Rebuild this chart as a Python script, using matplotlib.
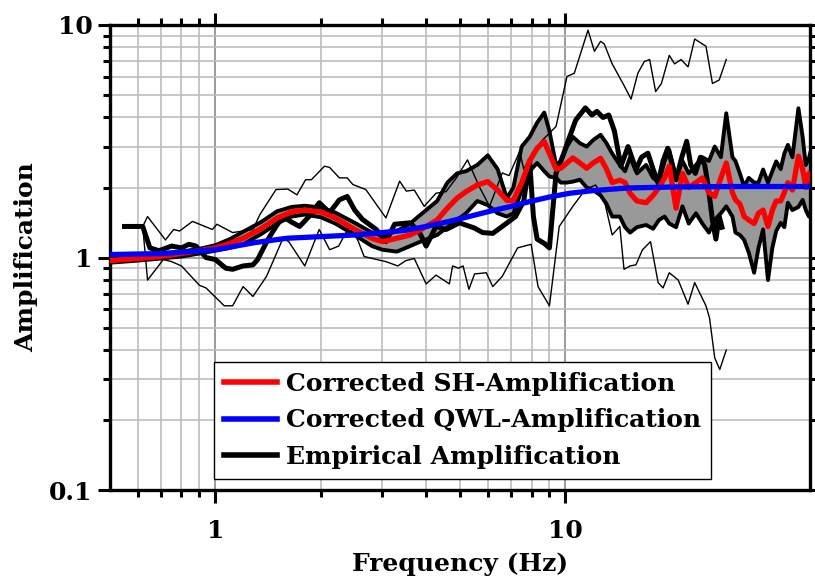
import numpy as np
import matplotlib
matplotlib.use("Agg")
import matplotlib.pyplot as plt
from matplotlib.ticker import FixedLocator, NullFormatter

# SH amplification: frequency, lower bound, mean, upper bound
sh_freq = [0.5, 0.6, 0.7, 0.8, 0.9, 1.0, 1.1, 1.2, 1.35, 1.5, 1.65, 1.8, 2.0, 2.2,
           2.5, 2.8, 3.0, 3.3, 3.6, 3.8, 4.3, 4.6, 4.9, 5.2, 5.6, 6.0, 6.4, 6.8,
           7.1, 7.5, 7.9, 8.3, 8.7, 9.0, 9.4, 9.7, 10.1, 10.5, 11.0, 11.5, 12.0,
           12.6, 13.1, 13.6, 14.3, 14.8, 15.3, 16.0, 17.0, 17.8, 18.5, 19.2, 19.8,
           20.7, 21.6, 22.5, 23.6, 24.6, 25.7, 26.7, 27.8, 28.8, 30.0, 30.6, 31.5,
           32.4, 33.4, 34.6, 35.6, 36.7, 37.9, 39.0, 40.0, 41.2, 42.2, 43.2, 44.5,
           46.3, 47.6, 48.6, 49.6, 50.0]
sh_lo = [0.95, 0.97, 0.99, 1.01, 1.04, 1.07, 1.10, 1.14, 1.26, 1.40, 1.50, 1.53, 1.49, 1.40,
         1.25, 1.12, 1.08, 1.06, 1.12, 1.16, 1.25, 1.35, 1.45, 1.55, 1.75, 1.68, 1.55, 1.50,
         1.55, 1.95, 2.35, 2.55, 2.35, 2.23, 2.20, 2.10, 2.10, 2.12, 2.16, 2.00, 1.95,
         1.85, 1.70, 1.50, 1.50, 1.35, 1.28, 1.35, 1.38, 1.33, 1.45, 1.50, 1.40,
         1.35, 1.66, 1.40, 1.55, 1.40, 1.28, 1.45, 1.55, 1.66, 1.50, 1.28, 1.25,
         1.19, 1.05, 0.86, 1.10, 1.32, 0.80, 1.10, 1.30, 1.41, 1.35, 1.72, 1.60,
         1.65, 1.77, 1.60, 1.50, 1.55]
sh_mean = [0.97, 0.99, 1.01, 1.04, 1.07, 1.10, 1.15, 1.21, 1.33, 1.48, 1.57, 1.60, 1.57, 1.48,
           1.32, 1.21, 1.17, 1.21, 1.25, 1.30, 1.45, 1.63, 1.80, 1.92, 2.05, 2.12, 1.95, 1.76,
           1.76, 2.10, 2.60, 2.95, 3.15, 2.80, 2.40, 2.42, 2.55, 2.68, 2.55, 2.42, 2.55,
           2.67, 2.40, 2.10, 2.15, 2.10, 1.89, 1.75, 1.72, 1.85, 2.00, 2.20, 2.47,
           1.63, 2.30, 2.00, 2.10, 2.20, 1.90, 1.83, 2.20, 2.55, 1.90, 1.77, 1.70,
           1.50, 1.45, 1.40, 1.55, 1.60, 1.36, 1.60, 1.75, 1.75, 1.90, 2.10, 1.95,
           2.73, 2.40, 2.00, 2.30, 2.20]
sh_hi = [0.99, 1.01, 1.03, 1.06, 1.09, 1.13, 1.20, 1.29, 1.42, 1.58, 1.65, 1.67, 1.64, 1.56,
         1.41, 1.28, 1.24, 1.30, 1.40, 1.50, 1.75, 2.10, 2.30, 2.35, 2.50, 2.75, 2.40, 1.80,
         2.00, 3.00, 3.30, 3.80, 4.20, 3.50, 2.50, 2.60, 3.00, 3.30, 3.10, 3.00, 3.20,
         3.37, 3.10, 2.80, 2.50, 2.35, 2.70, 2.30, 2.50, 2.20, 2.10, 2.60, 2.90,
         2.20, 2.60, 2.30, 2.50, 2.70, 2.60, 3.00, 2.70, 4.17, 2.70, 2.60, 2.30,
         2.02, 2.20, 2.10, 2.10, 2.39, 2.10, 2.35, 2.59, 2.40, 2.80, 3.05, 2.70,
         4.38, 3.30, 2.50, 2.67, 2.80]

# Quarter-wavelength amplification
qwl_freq = [0.5, 0.7, 1.0, 1.3, 1.6, 2.0, 2.5, 3.0, 3.5, 4.0, 4.66, 5.3, 6.07, 7.0,
            7.9, 9.0, 10.3, 12.0, 15.0, 20.0, 30.0, 50.0]
qwl_amp = [1.03, 1.04, 1.08, 1.16, 1.21, 1.23, 1.25, 1.28, 1.31, 1.36, 1.43, 1.50, 1.58, 1.66,
           1.74, 1.82, 1.89, 1.94, 1.99, 2.01, 2.02, 2.02]

# Empirical amplification (mean)
emp_freq = [0.55, 0.62, 0.65, 0.69, 0.75, 0.80, 0.84, 0.88, 0.94, 1.00, 1.07, 1.12, 1.20,
            1.28, 1.32, 1.41, 1.49, 1.56, 1.65, 1.74, 1.85, 1.98, 2.12, 2.26, 2.38, 2.50,
            2.63, 2.88, 3.07, 3.25, 3.60, 3.83, 4.00, 4.27, 4.56, 4.98, 5.49, 5.80, 6.20,
            6.60, 7.20, 7.60, 7.90, 8.10, 8.30, 8.70, 9.00, 9.20, 9.40, 9.80, 10.2, 10.7,
            11.4, 11.9, 12.3, 12.8, 13.3, 13.8, 14.4, 15.1, 15.9, 16.5, 17.2, 17.8, 18.4,
            19.0, 19.6, 20.2, 20.7, 21.5, 22.2, 22.8, 23.5, 24.3, 25.0, 25.6, 26.3, 26.9,
            27.5, 28.0]
emp_amp = [1.36, 1.36, 1.10, 1.07, 1.12, 1.10, 1.14, 1.12, 1.00, 0.98, 0.90, 0.89, 0.92,
           0.93, 0.98, 1.19, 1.36, 1.50, 1.42, 1.36, 1.50, 1.72, 1.56, 1.77, 1.83, 1.60,
           1.46, 1.32, 1.17, 1.39, 1.41, 1.28, 1.12, 1.36, 1.32, 1.41, 1.34, 1.28, 1.27,
           1.36, 1.50, 1.75, 2.60, 1.50, 1.20, 1.15, 1.10, 1.60, 2.30, 2.70, 3.20, 3.90,
           4.40, 4.10, 4.25, 4.00, 4.10, 3.50, 2.47, 3.00, 2.39, 2.70, 2.81, 2.40, 2.09,
           2.60, 2.95, 2.50, 2.16, 2.70, 3.16, 2.50, 2.30, 2.70, 2.50, 2.00, 1.45, 1.20,
           1.50, 1.35]

# Empirical upper / lower bounds
hi_freq = [0.62, 0.64, 0.72, 0.76, 0.79, 0.86, 0.98, 1.01, 1.12, 1.28, 1.34, 1.49, 1.61,
           1.71, 1.81, 1.88, 2.05, 2.12, 2.26, 2.38, 2.47, 2.69, 3.07, 3.36, 3.51, 3.70,
           3.95, 4.27, 4.56, 4.88, 5.25, 5.67, 6.07, 6.60, 6.90, 7.40, 7.60, 8.05, 8.60,
           9.40, 10.1, 10.6, 11.6, 12.1, 12.6, 12.9, 13.6, 14.6, 15.4, 16.1, 16.8, 17.4,
           18.1, 18.8, 19.8, 20.5, 21.4, 22.4, 23.4, 25.2, 26.3, 27.5, 28.8]
hi_amp = [1.36, 1.50, 1.19, 1.32, 1.30, 1.43, 1.32, 1.39, 1.28, 1.32, 1.53, 1.96, 1.97,
          1.86, 2.16, 2.16, 2.47, 2.44, 2.20, 2.20, 2.06, 1.96, 1.48, 2.13, 1.93, 1.95,
          1.66, 1.89, 1.92, 2.20, 2.63, 2.02, 1.66, 2.31, 2.25, 2.86, 2.40, 2.81, 3.20,
          3.66, 6.00, 6.20, 9.50, 7.70, 8.50, 8.30, 6.80, 5.60, 4.80, 6.20, 6.96, 7.10,
          5.17, 5.60, 7.40, 6.80, 7.10, 6.60, 8.70, 8.10, 5.60, 5.80, 7.10]
lo_freq = [0.62, 0.64, 0.71, 0.75, 0.80, 0.90, 0.94, 1.06, 1.12, 1.20, 1.28, 1.40, 1.56,
           1.62, 1.80, 1.98, 2.12, 2.25, 2.41, 2.55, 2.66, 3.07, 3.32, 3.50, 3.70, 4.00,
           4.27, 4.66, 4.76, 4.95, 5.10, 5.30, 5.50, 5.94, 6.20, 6.60, 7.30, 7.98, 8.35,
           9.00, 9.60, 10.5, 11.4, 12.2, 12.9, 13.6, 14.3, 14.7, 15.3, 15.9, 16.6, 17.5,
           18.4, 19.0, 19.8, 21.0, 22.4, 23.4, 25.2, 25.8, 26.7, 27.6, 28.8]
lo_amp = [1.36, 0.80, 0.98, 0.96, 0.92, 0.76, 0.74, 0.62, 0.62, 0.75, 0.68, 0.83, 1.21,
          1.17, 0.92, 1.32, 1.08, 1.12, 1.36, 1.19, 1.01, 0.96, 0.92, 0.97, 0.99, 0.77,
          0.84, 0.77, 0.92, 0.90, 0.92, 0.73, 0.85, 0.86, 0.75, 0.83, 1.10, 1.14, 0.75,
          0.62, 1.36, 1.66, 1.96, 2.05, 1.77, 1.25, 1.36, 0.89, 0.92, 0.93, 1.08, 1.17,
          0.78, 0.74, 0.86, 0.80, 0.63, 0.78, 0.62, 0.55, 0.37, 0.33, 0.40]

x_major = [1, 10]
x_minor = [0.6, 0.7, 0.8, 0.9, 2, 3, 4, 5, 6, 7, 8, 9]
y_major = [0.1, 1, 10]

plt.rcParams["font.family"] = "DejaVu Serif"
plt.rcParams["font.weight"] = "bold"

fig = plt.figure(figsize=(8.15, 5.8), dpi=100)
ax = fig.add_axes([0.135, 0.155, 0.859, 0.802])

ax.fill_between(sh_freq, sh_lo, sh_hi, color="#999999", lw=0, zorder=2)
ax.plot(sh_freq, sh_lo, color="black", lw=2.8, zorder=3)
ax.plot(sh_freq, sh_hi, color="black", lw=2.8, zorder=3)
ax.plot(hi_freq, hi_amp, color="black", lw=1.0, zorder=3)
ax.plot(lo_freq, lo_amp, color="black", lw=1.0, zorder=3)
ax.plot(emp_freq, emp_amp, color="black", lw=3.6, zorder=4,
        label="Empirical Amplification")
ax.plot(sh_freq, sh_mean, color="red", lw=3.8, zorder=5,
        label="Corrected SH-Amplification")
ax.plot(qwl_freq, qwl_amp, color="blue", lw=3.8, zorder=6,
        label="Corrected QWL-Amplification")

ax.set_xscale("log")
ax.set_yscale("log")
ax.set_xlim(0.5, 50)
ax.set_ylim(0.1, 10)

ax.xaxis.set_major_locator(FixedLocator(x_major))
ax.xaxis.set_minor_locator(FixedLocator(x_minor))
ax.xaxis.set_minor_formatter(NullFormatter())
ax.set_xticklabels([str(v) for v in x_major])
ax.yaxis.set_major_locator(FixedLocator(y_major))
ax.set_yticklabels(["0.1", "1", "10"])

ax.grid(which="major", color="#8a8a8a", lw=1.2)
ax.grid(which="minor", color="#bdbdbd", lw=1.2)
ax.set_axisbelow(True)

ax.tick_params(which="both", direction="out", top=True, right=True, width=2.2,
               labelsize=18)
ax.tick_params(which="major", length=9)
ax.tick_params(which="minor", length=5)
ax.tick_params(axis="x", which="major", pad=12)
for s in ax.spines.values():
    s.set_linewidth(2.4)

ax.set_xlabel("Frequency (Hz)", fontsize=18, fontweight="bold", labelpad=6)
ax.set_ylabel("Amplification", fontsize=18, fontweight="bold", labelpad=8)

h, l = ax.get_legend_handles_labels()
order = [1, 2, 0]
leg = ax.legend([h[i] for i in order], [l[i] for i in order], loc="lower left",
                bbox_to_anchor=(0.149, 0.024), borderaxespad=0, fancybox=False,
                edgecolor="black", framealpha=1, fontsize=18, handlelength=2.1,
                labelspacing=0.5, borderpad=0.4, handletextpad=0.36)
leg.get_frame().set_linewidth(1.0)
for ln in leg.get_lines():
    ln.set_linewidth(4)

fig.savefig("out.png", dpi=100)
